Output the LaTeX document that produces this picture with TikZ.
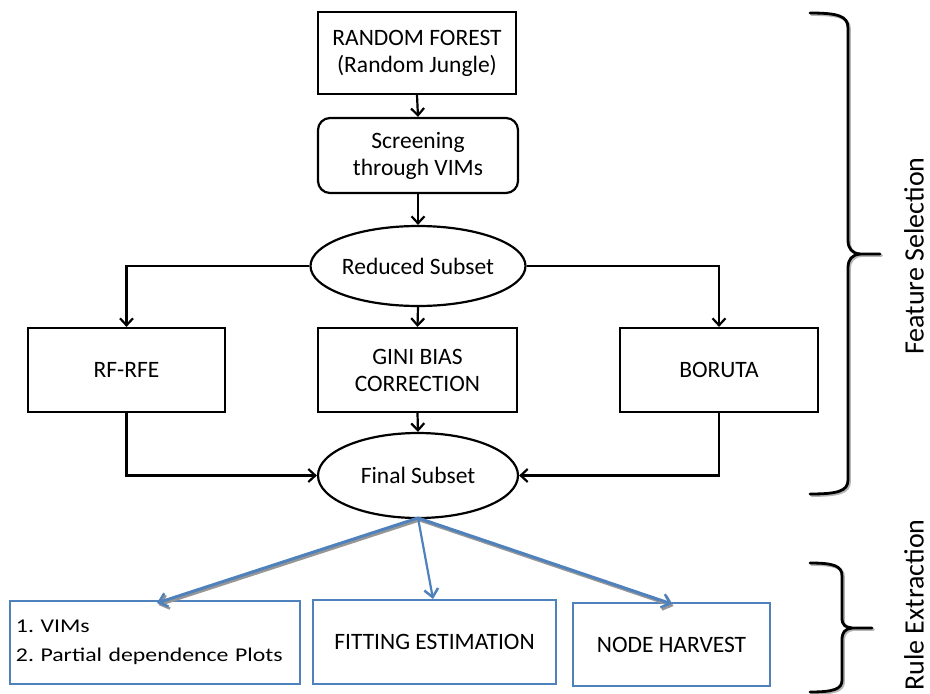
\documentclass[tikz,border=0pt]{standalone}
\usepackage{fontspec}
\setmainfont{Carlito}
\newfontfamily\widefont[FakeStretch=1.22]{Carlito}
\usetikzlibrary{arrows.meta,shapes.geometric}
\definecolor{ppblue}{RGB}{79,129,189}
\definecolor{shadowgray}{RGB}{150,150,150}
\frenchspacing
\tikzset{
  bbox/.style={draw=black,line width=2.2pt,fill=white,align=center,inner sep=2pt,font=\fontsize{23.5}{27}\selectfont},
  rbox/.style={bbox,rounded corners=12pt},
  ebox/.style={ellipse,draw=black,line width=2.2pt,fill=white,inner sep=0pt,font=\fontsize{23.5}{27}\selectfont},
  bluebox/.style={draw=ppblue,line width=2.6pt,fill=white,inner sep=4pt,font=\fontsize{23.5}{30}\selectfont},
  conn/.style={draw=black,line width=2.2pt,-{Straight Barb[length=7pt,width=13pt,line width=2.2pt]}},
  bconn/.style={draw=ppblue,line width=3pt,-{Straight Barb[length=8pt,width=14pt,line width=2.5pt]}},
  bshadow/.style={draw=shadowgray,line width=3pt,-{Straight Barb[length=8pt,width=14pt,line width=2.5pt]}},
  brace/.style={draw=black,line width=2.8pt,line cap=round,line join=round},
  braceshadow/.style={draw=shadowgray!70,line width=2.8pt,line cap=round,line join=round},
  sidelabel/.style={rotate=90,font=\fontsize{28}{30}\selectfont,inner sep=0pt}
}
\begin{document}
\begin{tikzpicture}[x=1pt,y=-1pt]
\useasboundingbox (0,0) rectangle (930,694);
% nodes
\node[bbox,minimum width=198pt,minimum height=82pt] (rf) at (417,53) {RANDOM FOREST\\(Random Jungle)};
\node[rbox,minimum width=200pt,minimum height=75pt] (scr) at (418,155.5) {Screening\\through VIMs};
\node[ebox,minimum width=200pt,minimum height=80pt] (red) at (418,266) {Reduced Subset};
\node[bbox,minimum width=197pt,minimum height=84pt] (rfe) at (126.5,370) {RF-RFE};
\node[bbox,minimum width=199pt,minimum height=84pt] (gini) at (417.5,370) {GINI BIAS\\CORRECTION};
\node[bbox,minimum width=198pt,minimum height=84pt] (bor) at (719,370) {BORUTA};
\node[ebox,minimum width=200pt,minimum height=85pt] (fin) at (418,475.5) {Final Subset};
\node[bluebox,minimum width=290pt,minimum height=83pt,align=left,text width=278pt,font=\widefont\fontsize{19.5}{29}\selectfont] (vims) at (155,642.5) {1. VIMs\\2. Partial dependence Plots};
\node[bluebox,minimum width=243pt,minimum height=84pt,align=center] (fit) at (434.5,642) {FITTING ESTIMATION};
\node[bluebox,minimum width=197pt,minimum height=83pt,align=center] (nh) at (671.5,644.5) {NODE HARVEST};
% black connectors
\draw[conn] (rf.south) -- (scr.north);
\draw[conn] (scr.south) -- (red.north);
\draw[conn] (red.west) -| (rfe.north);
\draw[conn] (red.east) -| (bor.north);
\draw[conn] (red.south) -- (gini.north);
\draw[conn] (gini.south) -- (fin.north);
\draw[conn] (rfe.south) |- (fin.west);
\draw[conn] (bor.south) |- (fin.east);
% blue connectors
\coordinate (src) at (418,518);
\coordinate (tl) at (157,603);
\coordinate (tm) at (433,599);
\coordinate (tr) at (672,604);
\draw[bshadow] ([shift={(1.5,2)}]src) -- ([shift={(1.5,2)}]tl);
\draw[bshadow] ([shift={(1.5,2)}]src) -- ([shift={(1.5,2)}]tr);
\draw[bconn] (src) -- (tl);
\draw[bconn,line width=2.2pt] (src) -- (tm);
\draw[bconn] (src) -- (tr);
% braces
\foreach \s/\st in {1.5/braceshadow,0/brace}{
\draw[\st,shift={(\s,\s)}] (810,13) .. controls (838,13) and (848,16) .. (848,28) -- (848,240)
  .. controls (848,249) and (852,253) .. (860,254) -- (880,254);
\draw[\st,shift={(\s,\s)}] (860,254) .. controls (852,255) and (848,259) .. (848,268) -- (848,480)
  .. controls (848,491) and (838,494) .. (810,494);
\draw[\st,shift={(\s,\s)}] (810,563) .. controls (834,563) and (842,566) .. (842,576) -- (842,618)
  .. controls (842,625) and (845,627) .. (852,628) -- (872,628);
\draw[\st,shift={(\s,\s)}] (852,628) .. controls (845,629) and (842,632) .. (842,640) -- (842,680)
  .. controls (842,689) and (834,692) .. (810,692);
}
\node[sidelabel] (fs) at (914,256) {Feature Selection};
\node[sidelabel] (re) at (914,605) {Rule Extraction};
\end{tikzpicture}
\end{document}
